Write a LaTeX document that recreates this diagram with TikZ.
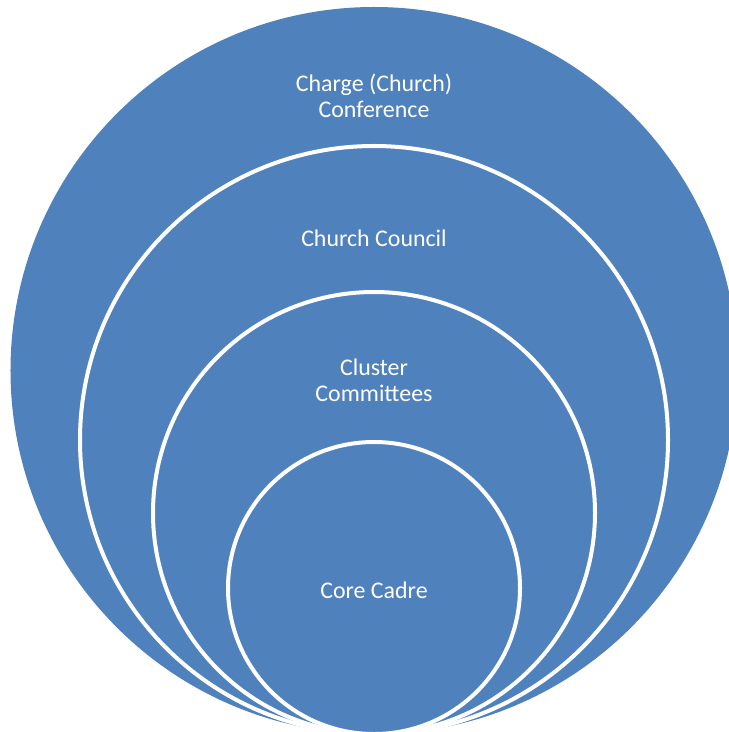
\documentclass[tikz,border=0pt]{standalone}
\usepackage{fontspec}
\setmainfont{Carlito}
\usetikzlibrary{positioning}
\definecolor{ringblue}{HTML}{4F81BD}

\begin{document}
\begin{tikzpicture}
    [x=1bp,y=-1bp,
     ring/.style={circle,fill=ringblue,draw=white,line width=4bp,inner sep=0pt},
     ringlab/.style={text=white,align=center,font=\fontsize{24}{26}\selectfont}]
    \useasboundingbox (0,0) rectangle (729,732);
    % outer disc, then the nested rings, all touching at the bottom
    \node (conf) [ring,draw=none,minimum size=727bp] at (374,370.5) {};
    \foreach \n / \r in {council/294,cluster/221,core/146} {
      \node (\n) [ring,minimum size=2*\r bp] at (374,734-\r) {};
    }

    \node (conflab) [ringlab] at (374,96) {Charge (Church)\\Conference};
    \node (councillab) [ringlab] at (374,238) {Church Council};
    \node (clusterlab) [ringlab] at (374,380) {Cluster\\Committees};
    \node (corelab) [ringlab] at (374,590) {Core Cadre};
\end{tikzpicture}
\end{document}
